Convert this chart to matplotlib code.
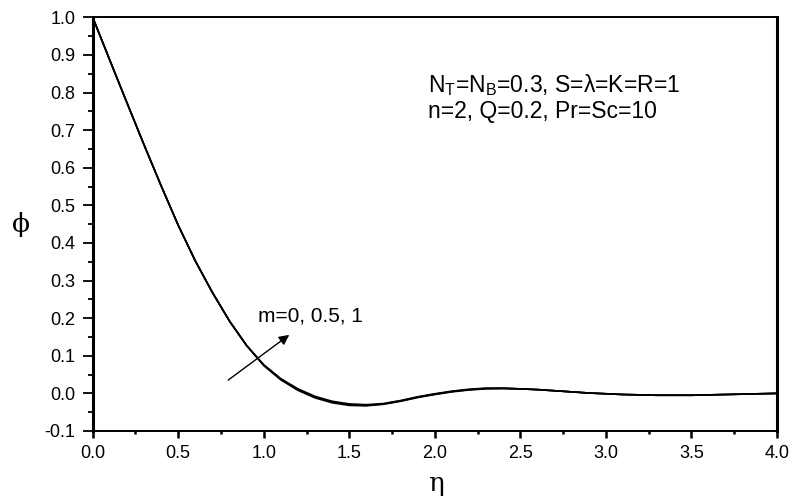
import numpy as np
import matplotlib.pyplot as plt

eta = [0.0, 0.1, 0.2, 0.3, 0.4, 0.5, 0.6, 0.7, 0.8, 0.9, 1.0,
       1.1, 1.2, 1.3, 1.4, 1.5, 1.6, 1.7, 1.8, 1.9, 2.0,
       2.1, 2.2, 2.3, 2.4, 2.5, 2.6, 2.7, 2.8, 2.9, 3.0,
       3.1, 3.2, 3.3, 3.4, 3.5, 3.6, 3.7, 3.8, 3.9, 4.0]
phi_m0 = [1.0, 0.886, 0.773, 0.661, 0.552, 0.447, 0.352, 0.268, 0.192, 0.127, 0.074,
          0.036, 0.008, -0.012, -0.025, -0.032, -0.033, -0.029, -0.021, -0.011, -0.003,
          0.004, 0.009, 0.012, 0.013, 0.012, 0.010, 0.007, 0.004, 0.001, -0.001,
          -0.003, -0.004, -0.005, -0.005, -0.005, -0.004, -0.003, -0.002, -0.001, 0.0]
phi_m05 = [1.0, 0.886, 0.773, 0.661, 0.552, 0.447, 0.352, 0.268, 0.192, 0.127, 0.075,
           0.037, 0.010, -0.010, -0.023, -0.030, -0.032, -0.028, -0.020, -0.010, -0.002,
           0.005, 0.010, 0.013, 0.013, 0.012, 0.010, 0.007, 0.004, 0.001, -0.001,
           -0.003, -0.004, -0.005, -0.005, -0.005, -0.004, -0.003, -0.002, -0.001, 0.0]
phi_m1 = [1.0, 0.886, 0.773, 0.661, 0.552, 0.447, 0.352, 0.268, 0.192, 0.127, 0.076,
          0.039, 0.012, -0.008, -0.021, -0.028, -0.030, -0.027, -0.019, -0.009, -0.001,
          0.006, 0.011, 0.014, 0.014, 0.012, 0.010, 0.007, 0.004, 0.001, -0.001,
          -0.003, -0.004, -0.005, -0.005, -0.005, -0.004, -0.003, -0.002, -0.001, 0.0]

plt.rcParams['font.family'] = ['Liberation Sans', 'DejaVu Sans']
plt.rcParams['mathtext.fontset'] = 'custom'
plt.rcParams['mathtext.rm'] = 'Liberation Sans'

fig = plt.figure(figsize=(7.95, 4.99), dpi=100)
ax = fig.add_axes([0.1166, 0.1363, 0.8608, 0.829])

for y in [phi_m0, phi_m05, phi_m1]:
    ax.plot(eta, y, c='k', lw=1.2, solid_joinstyle='round')

ax.set_xlim(0, 4)
ax.set_ylim(-0.1, 1.0)
ax.set_xticks(np.arange(0, 4.01, 0.5))
ax.set_yticks(np.arange(-0.1, 1.01, 0.1))
ax.set_xticks(np.arange(0.25, 4, 0.5), minor=True)
ax.set_yticks(np.arange(-0.05, 1.0, 0.1), minor=True)
ax.xaxis.set_major_formatter(plt.FormatStrFormatter('%.1f'))
ax.yaxis.set_major_formatter(plt.FormatStrFormatter('%.1f'))
ax.tick_params(which='both', direction='out', top=False, right=False, labelsize=13)
ax.tick_params(axis='x', which='major', length=5, width=1.8, pad=5)
ax.tick_params(axis='x', which='minor', length=2.5, width=1.8)
ax.tick_params(axis='y', which='major', length=7.5, width=1.3, pad=5)
ax.tick_params(axis='y', which='minor', length=3.5, width=1.3)
ax.spines['left'].set_linewidth(2.2)
ax.spines['right'].set_linewidth(2.2)
ax.spines['top'].set_linewidth(1.4)
ax.spines['bottom'].set_linewidth(1.4)

ax.set_xlabel('η', fontsize=19, family='DejaVu Serif', va='center')
ax.xaxis.set_label_coords(0.502, -0.128)
ax.set_ylabel('ϕ', fontsize=19, family='DejaVu Serif', rotation=0, va='center', ha='center')
ax.yaxis.set_label_coords(-0.105, 0.5)

ax.text(1.959, 0.800, r'N$_\mathrm{T}$=N$_\mathrm{B}$=0.3, S=λ=K=R=1', fontsize=16.5, va='baseline')
ax.text(1.959, 0.732, 'n=2, Q=0.2, Pr=Sc=10', fontsize=16.5, va='baseline')
ax.text(0.967, 0.190, 'm=0, 0.5, 1', fontsize=15, va='baseline')
ax.annotate('', xy=(1.162, 0.160), xytext=(0.779, 0.031),
            arrowprops=dict(arrowstyle='-|>', color='k', lw=1, mutation_scale=15))

fig.savefig('out.png', dpi=100)
